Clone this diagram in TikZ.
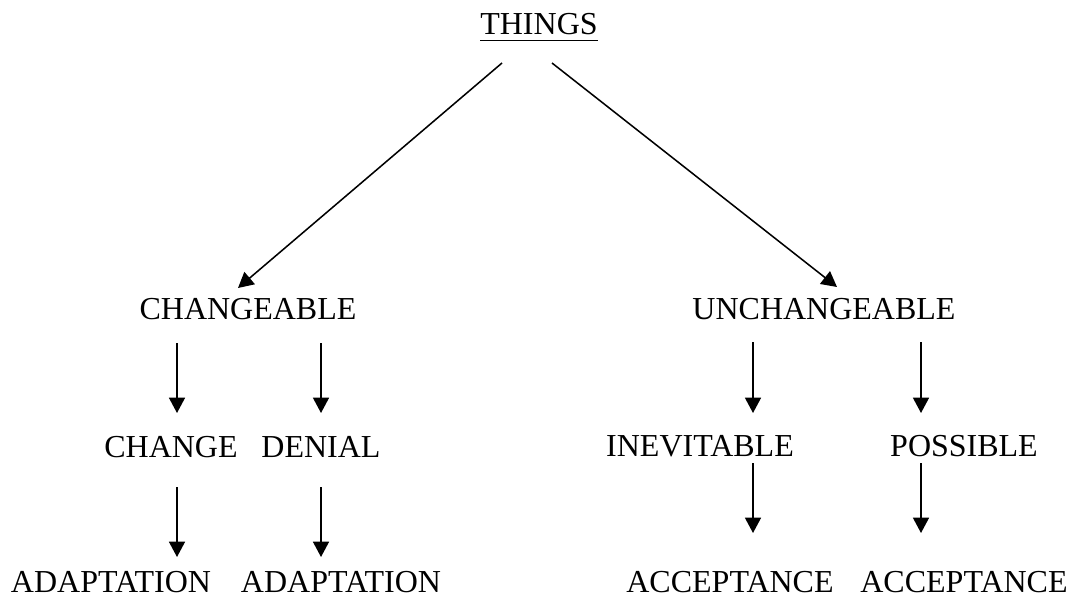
\documentclass[tikz,border=0pt]{standalone}
\usepackage{fontspec}
\setmainfont{Liberation Serif}
\usetikzlibrary{arrows.meta}
\begin{document}
\begin{tikzpicture}[x=0.75pt,y=-0.75pt,
  lbl/.style={anchor=base,inner sep=0pt,font=\fontsize{24}{28}\selectfont},
  conn/.style={line width=1.15pt,-{Triangle[length=11.5pt,width=12pt]}}]
\useasboundingbox (0,0) rectangle (1071,599);
% nodes
\node[lbl] (things) at (539,35) {THINGS};
\node[lbl] (changeable) at (248,319) {CHANGEABLE};
\node[lbl] (unchangeable) at (824,319) {UNCHANGEABLE};
\node[lbl] (change) at (171,457) {CHANGE};
\node[lbl] (denial) at (321,457) {DENIAL};
\node[lbl] (inevitable) at (700,456) {INEVITABLE};
\node[lbl] (possible) at (964,456) {POSSIBLE};
\node[lbl] (adapt1) at (111,592) {ADAPTATION};
\node[lbl] (adapt2) at (341,592) {ADAPTATION};
\node[lbl] (accept1) at (730,592) {ACCEPTANCE};
\node[lbl] (accept2) at (964,592) {ACCEPTANCE};
% underline of THINGS
\draw[line width=1.1pt] ([yshift=-4pt]things.base west) -- ([yshift=-4pt]things.base east);
% connector ends
\coordinate (tL) at (502,63);
\coordinate (tR) at (552,63);
\coordinate (cIn) at (238,288);
\coordinate (uIn) at (837,287);
\coordinate (c1s) at (177,343); \coordinate (c1e) at (177,413);
\coordinate (c2s) at (321,343); \coordinate (c2e) at (321,413);
\coordinate (u1s) at (753,342); \coordinate (u1e) at (753,413);
\coordinate (u2s) at (921,342); \coordinate (u2e) at (921,413);
\coordinate (a1s) at (177,487); \coordinate (a1e) at (177,557);
\coordinate (a2s) at (321,487); \coordinate (a2e) at (321,557);
\coordinate (p1s) at (753,463); \coordinate (p1e) at (753,533);
\coordinate (p2s) at (921,463); \coordinate (p2e) at (921,533);
% connectors
\draw[conn] (tL) -- (cIn);
\draw[conn] (tR) -- (uIn);
\draw[conn] (c1s) -- (c1e);
\draw[conn] (c2s) -- (c2e);
\draw[conn] (u1s) -- (u1e);
\draw[conn] (u2s) -- (u2e);
\draw[conn] (a1s) -- (a1e);
\draw[conn] (a2s) -- (a2e);
\draw[conn] (p1s) -- (p1e);
\draw[conn] (p2s) -- (p2e);
\end{tikzpicture}
\end{document}
